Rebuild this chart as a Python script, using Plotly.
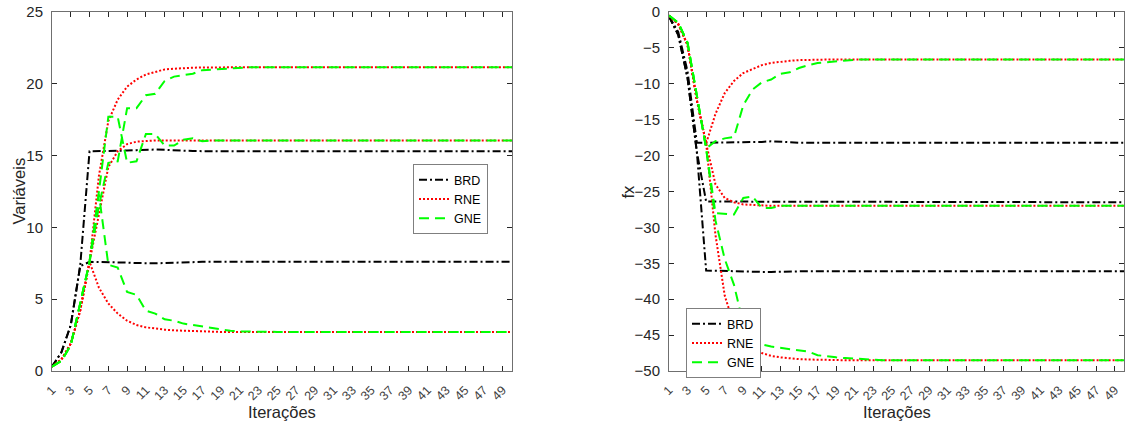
import plotly.graph_objects as go

# ---------------- data ----------------
iteracoes = list(range(1, 51))
xtick_vals = list(range(1, 50, 2))

# Left panel: "Variáveis"
brd_var_a = [0.3, 1.3, 3.2, 7.3, 15.3, 15.3, 15.3, 15.32, 15.35, 15.38,
             15.42, 15.42, 15.4, 15.36, 15.33, 15.32, 15.31, 15.3, 15.3, 15.3,
             15.3, 15.3, 15.3, 15.3, 15.3, 15.3, 15.3, 15.3, 15.3, 15.3,
             15.3, 15.3, 15.3, 15.3, 15.3, 15.3, 15.3, 15.3, 15.3, 15.3,
             15.3, 15.3, 15.3, 15.3, 15.3, 15.3, 15.3, 15.3, 15.3, 15.3]
brd_var_b = [0.3, 1.3, 3.2, 7.3, 7.6, 7.6, 7.6, 7.58, 7.55, 7.52,
             7.5, 7.5, 7.52, 7.55, 7.57, 7.58, 7.6, 7.6, 7.6, 7.6,
             7.6, 7.6, 7.6, 7.6, 7.6, 7.6, 7.6, 7.6, 7.6, 7.6,
             7.6, 7.6, 7.6, 7.6, 7.6, 7.6, 7.6, 7.6, 7.6, 7.6,
             7.6, 7.6, 7.6, 7.6, 7.6, 7.6, 7.6, 7.6, 7.6, 7.6]

rne_var_a = [0.3, 0.8, 1.9, 4.2, 7.6, 13.6, 17.4, 18.9, 19.8, 20.3,
             20.65, 20.85, 21.0, 21.05, 21.1, 21.12, 21.14, 21.15, 21.15, 21.15,
             21.15, 21.15, 21.15, 21.15, 21.15, 21.15, 21.15, 21.15, 21.15, 21.15,
             21.15, 21.15, 21.15, 21.15, 21.15, 21.15, 21.15, 21.15, 21.15, 21.15,
             21.15, 21.15, 21.15, 21.15, 21.15, 21.15, 21.15, 21.15, 21.15, 21.15]
rne_var_b = [0.3, 0.8, 1.9, 4.2, 7.6, 11.0, 14.2, 15.3, 15.8, 15.97,
             16.03, 16.05, 16.05, 16.05, 16.05, 16.05, 16.05, 16.05, 16.05, 16.05,
             16.05, 16.05, 16.05, 16.05, 16.05, 16.05, 16.05, 16.05, 16.05, 16.05,
             16.05, 16.05, 16.05, 16.05, 16.05, 16.05, 16.05, 16.05, 16.05, 16.05,
             16.05, 16.05, 16.05, 16.05, 16.05, 16.05, 16.05, 16.05, 16.05, 16.05]
rne_var_c = [0.3, 0.8, 1.9, 4.2, 7.6, 5.8, 4.7, 4.0, 3.5, 3.2,
             3.04, 2.95, 2.88, 2.83, 2.8, 2.77, 2.75, 2.73, 2.72, 2.72,
             2.72, 2.72, 2.72, 2.72, 2.72, 2.72, 2.72, 2.72, 2.72, 2.72,
             2.72, 2.72, 2.72, 2.72, 2.72, 2.72, 2.72, 2.72, 2.72, 2.72,
             2.72, 2.72, 2.72, 2.72, 2.72, 2.72, 2.72, 2.72, 2.72, 2.72]

gne_var_a = [0.3, 0.7, 1.8, 4.6, 7.6, 11.5, 14.5, 14.6, 18.3, 18.3,
             19.2, 19.3, 20.2, 20.5, 20.6, 20.7, 20.95, 21.0, 21.05, 21.1,
             21.12, 21.15, 21.15, 21.15, 21.15, 21.15, 21.15, 21.15, 21.15, 21.15,
             21.15, 21.15, 21.15, 21.15, 21.15, 21.15, 21.15, 21.15, 21.15, 21.15,
             21.15, 21.15, 21.15, 21.15, 21.15, 21.15, 21.15, 21.15, 21.15, 21.15]
gne_var_b = [0.3, 0.7, 1.8, 4.6, 7.6, 12.5, 17.7, 17.7, 14.5, 14.6,
             16.5, 16.5, 15.7, 15.7, 16.1, 16.2, 16.0, 16.05, 16.05, 16.05,
             16.05, 16.05, 16.05, 16.05, 16.05, 16.05, 16.05, 16.05, 16.05, 16.05,
             16.05, 16.05, 16.05, 16.05, 16.05, 16.05, 16.05, 16.05, 16.05, 16.05,
             16.05, 16.05, 16.05, 16.05, 16.05, 16.05, 16.05, 16.05, 16.05, 16.05]
gne_var_c = [0.3, 0.7, 1.8, 4.6, 7.6, 12.3, 7.4, 7.2, 5.5, 5.3,
             4.2, 4.0, 3.6, 3.5, 3.3, 3.2, 3.1, 2.95, 2.9, 2.8,
             2.76, 2.74, 2.72, 2.72, 2.72, 2.72, 2.72, 2.72, 2.72, 2.72,
             2.72, 2.72, 2.72, 2.72, 2.72, 2.72, 2.72, 2.72, 2.72, 2.72,
             2.72, 2.72, 2.72, 2.72, 2.72, 2.72, 2.72, 2.72, 2.72, 2.72]

# Right panel: "fx"
brd_fx_a = [-0.6, -2.8, -8.3, -18.2, -18.2, -18.2, -18.2, -18.2, -18.2, -18.15,
            -18.1, -18.0, -18.1, -18.15, -18.2, -18.2, -18.2, -18.2, -18.2, -18.2,
            -18.2, -18.2, -18.2, -18.2, -18.2, -18.2, -18.2, -18.2, -18.2, -18.2,
            -18.2, -18.2, -18.2, -18.2, -18.2, -18.2, -18.2, -18.2, -18.2, -18.2,
            -18.2, -18.2, -18.2, -18.2, -18.2, -18.2, -18.2, -18.2, -18.2, -18.2]
brd_fx_b = [-0.6, -3.2, -9.2, -19.5, -26.4, -26.4, -26.4, -26.4, -26.4, -26.4,
            -26.4, -26.4, -26.45, -26.45, -26.45, -26.45, -26.45, -26.5, -26.5, -26.5,
            -26.5, -26.5, -26.5, -26.5, -26.5, -26.5, -26.5, -26.5, -26.5, -26.5,
            -26.5, -26.5, -26.5, -26.5, -26.5, -26.5, -26.5, -26.5, -26.5, -26.5,
            -26.5, -26.5, -26.5, -26.5, -26.5, -26.5, -26.5, -26.5, -26.5, -26.5]
brd_fx_c = [-0.6, -3.2, -9.2, -19.5, -36.0, -36.05, -36.05, -36.1, -36.1, -36.15,
            -36.2, -36.2, -36.15, -36.1, -36.1, -36.1, -36.1, -36.1, -36.1, -36.1,
            -36.1, -36.1, -36.1, -36.1, -36.1, -36.1, -36.1, -36.1, -36.1, -36.1,
            -36.1, -36.1, -36.1, -36.1, -36.1, -36.1, -36.1, -36.1, -36.1, -36.1,
            -36.1, -36.1, -36.1, -36.1, -36.1, -36.1, -36.1, -36.1, -36.1, -36.1]

rne_fx_a = [-0.5, -1.7, -4.6, -12.3, -18.3, -14.2, -11.3, -9.6, -8.5, -7.9,
            -7.4, -7.1, -6.9, -6.8, -6.7, -6.65, -6.62, -6.6, -6.6, -6.6,
            -6.6, -6.6, -6.6, -6.6, -6.6, -6.6, -6.6, -6.6, -6.6, -6.6,
            -6.6, -6.6, -6.6, -6.6, -6.6, -6.6, -6.6, -6.6, -6.6, -6.6,
            -6.6, -6.6, -6.6, -6.6, -6.6, -6.6, -6.6, -6.6, -6.6, -6.6]
rne_fx_b = [-0.5, -1.7, -4.6, -12.3, -18.3, -24.0, -25.9, -26.5, -26.8, -26.9,
            -26.95, -27.0, -27.0, -27.0, -27.0, -27.0, -27.0, -27.0, -27.0, -27.0,
            -27.0, -27.0, -27.0, -27.0, -27.0, -27.0, -27.0, -27.0, -27.0, -27.0,
            -27.0, -27.0, -27.0, -27.0, -27.0, -27.0, -27.0, -27.0, -27.0, -27.0,
            -27.0, -27.0, -27.0, -27.0, -27.0, -27.0, -27.0, -27.0, -27.0, -27.0]
rne_fx_c = [-0.5, -1.7, -4.6, -12.3, -18.3, -31.0, -39.5, -43.6, -45.8, -46.9,
            -47.5, -47.9, -48.1, -48.25, -48.35, -48.4, -48.45, -48.5, -48.5, -48.5,
            -48.5, -48.5, -48.5, -48.5, -48.5, -48.5, -48.5, -48.5, -48.5, -48.5,
            -48.5, -48.5, -48.5, -48.5, -48.5, -48.5, -48.5, -48.5, -48.5, -48.5,
            -48.5, -48.5, -48.5, -48.5, -48.5, -48.5, -48.5, -48.5, -48.5, -48.5]

gne_fx_a = [-0.5, -1.5, -4.3, -11.5, -19.0, -18.0, -17.6, -17.4, -13.0, -10.8,
            -9.8, -9.4, -8.6, -8.4, -7.8, -7.4, -7.1, -7.0, -6.85, -6.7,
            -6.65, -6.6, -6.6, -6.6, -6.6, -6.6, -6.6, -6.6, -6.6, -6.6,
            -6.6, -6.6, -6.6, -6.6, -6.6, -6.6, -6.6, -6.6, -6.6, -6.6,
            -6.6, -6.6, -6.6, -6.6, -6.6, -6.6, -6.6, -6.6, -6.6, -6.6]
gne_fx_b = [-0.5, -1.5, -4.3, -11.5, -19.0, -28.0, -28.1, -28.2, -25.9, -25.7,
            -27.3, -27.3, -27.0, -27.0, -27.0, -27.0, -27.0, -27.0, -27.0, -27.0,
            -27.0, -27.0, -27.0, -27.0, -27.0, -27.0, -27.0, -27.0, -27.0, -27.0,
            -27.0, -27.0, -27.0, -27.0, -27.0, -27.0, -27.0, -27.0, -27.0, -27.0,
            -27.0, -27.0, -27.0, -27.0, -27.0, -27.0, -27.0, -27.0, -27.0, -27.0]
gne_fx_c = [-0.5, -1.5, -4.3, -11.5, -19.0, -29.0, -34.4, -38.0, -43.5, -45.5,
            -46.3, -46.6, -46.8, -47.0, -47.2, -47.3, -47.8, -48.0, -48.1, -48.2,
            -48.3, -48.4, -48.5, -48.5, -48.5, -48.5, -48.5, -48.5, -48.5, -48.5,
            -48.5, -48.5, -48.5, -48.5, -48.5, -48.5, -48.5, -48.5, -48.5, -48.5,
            -48.5, -48.5, -48.5, -48.5, -48.5, -48.5, -48.5, -48.5, -48.5, -48.5]

# ---------------- styling ----------------
FONT = "Liberation Sans, Arial, Helvetica, sans-serif"
AX = "#262626"
W, H = 1131, 425
styles = {
    "BRD": dict(color="#000000", width=2, dash="8px,3px,2px,3px"),
    "RNE": dict(color="#ff0000", width=2, dash="2px,2px"),
    "GNE": dict(color="#00ff00", width=2, dash="10px,6px"),
}

left = {"BRD": [brd_var_a, brd_var_b],
        "RNE": [rne_var_a, rne_var_b, rne_var_c],
        "GNE": [gne_var_a, gne_var_b, gne_var_c]}
right = {"BRD": [brd_fx_a, brd_fx_b, brd_fx_c],
         "RNE": [rne_fx_a, rne_fx_b, rne_fx_c],
         "GNE": [gne_fx_a, gne_fx_b, gne_fx_c]}

fig = go.Figure()
for panel, (xa, ya, leg) in zip([left, right], [("x", "y", "legend"), ("x2", "y2", "legend2")]):
    for name in ["BRD", "RNE", "GNE"]:
        for k, ys in enumerate(panel[name]):
            fig.add_trace(go.Scatter(
                x=iteracoes, y=ys, mode="lines", name=name,
                line=styles[name], xaxis=xa, yaxis=ya, legend=leg,
                legendgroup=leg + name, showlegend=(k == 0)))

def px_x(p):
    return p / W

def px_y(p):
    return 1 - p / H

y_dom = [px_y(371), px_y(12)]
common_x = dict(range=[1, 50], tickvals=xtick_vals, tickangle=-45,
                ticks="inside", ticklen=5, tickcolor=AX, showline=True,
                linecolor="#6f6f6f", linewidth=1, mirror="ticks",
                showgrid=False, zeroline=False, automargin=False,
                ticklabelstandoff=6,
                tickfont=dict(family=FONT, size=12.5, color="#404040"))
common_y = dict(ticks="inside", ticklen=5, tickcolor=AX, showline=True,
                linecolor="#6f6f6f", linewidth=1, mirror="ticks",
                showgrid=False, zeroline=False, dtick=5, automargin=False,
                ticklabelstandoff=5,
                tickfont=dict(family=FONT, size=15, color=AX))

legend_common = dict(xanchor="left", yanchor="top", bgcolor="white",
                     bordercolor="#7f7f7f", borderwidth=1,
                     font=dict(family=FONT, size=12.5, color="#000000"),
                     tracegroupgap=0)

fig.update_layout(
    width=W, height=H, margin=dict(l=0, r=0, t=0, b=0),
    paper_bgcolor="white", plot_bgcolor="white",
    xaxis=dict(domain=[px_x(52), px_x(512)], anchor="y", **common_x),
    yaxis=dict(domain=y_dom, anchor="x", range=[0, 25], **common_y),
    xaxis2=dict(domain=[px_x(669), px_x(1124)], anchor="y2", **common_x),
    yaxis2=dict(domain=y_dom, anchor="x2", range=[-50, 0], **common_y),
    legend=dict(x=px_x(413), y=px_y(164), **legend_common),
    legend2=dict(x=px_x(686), y=px_y(308), **legend_common),
    annotations=[
        dict(text="Iterações", x=px_x(282), y=px_y(412), xref="paper", yref="paper",
             showarrow=False, xanchor="center", yanchor="middle",
             font=dict(family=FONT, size=16.5, color=AX)),
        dict(text="Iterações", x=px_x(896.5), y=px_y(412), xref="paper", yref="paper",
             showarrow=False, xanchor="center", yanchor="middle",
             font=dict(family=FONT, size=16.5, color=AX)),
        dict(text="Variáveis", x=px_x(18), y=px_y(191.5), xref="paper", yref="paper",
             showarrow=False, xanchor="center", yanchor="middle", textangle=-90,
             font=dict(family=FONT, size=16.5, color=AX)),
        dict(text="fx", x=px_x(627), y=px_y(191.5), xref="paper", yref="paper",
             showarrow=False, xanchor="center", yanchor="middle", textangle=-90,
             font=dict(family=FONT, size=16.5, color=AX)),
    ],
)

fig.write_html("out.html")
